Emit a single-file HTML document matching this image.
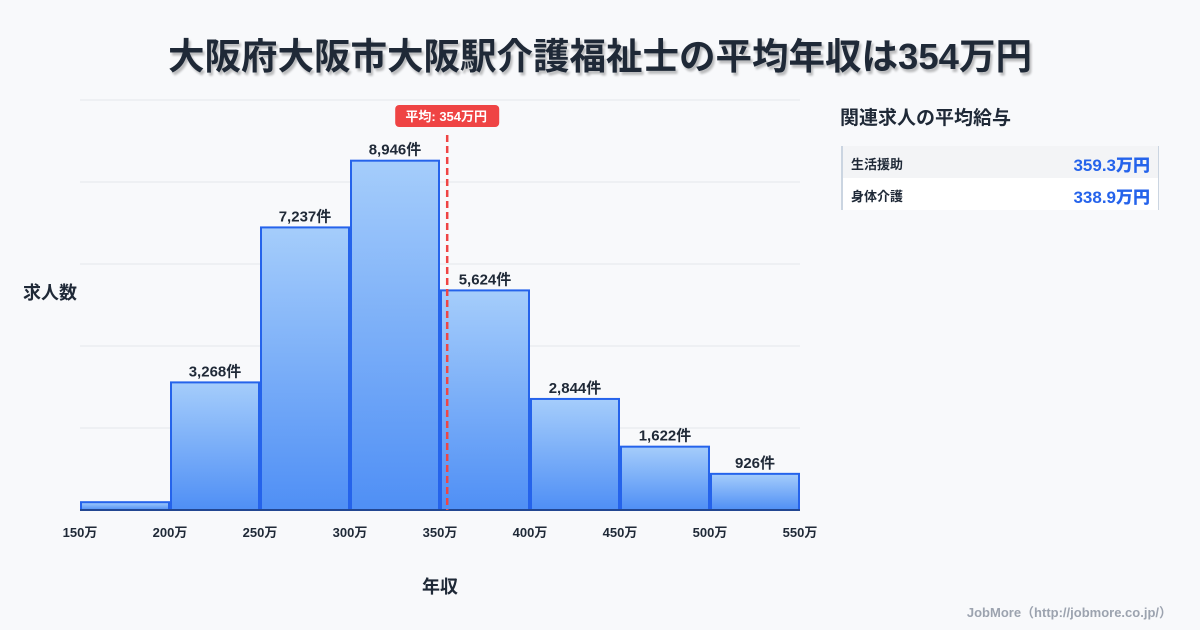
<!DOCTYPE html>
<html><head><meta charset="utf-8">
<style>
body{margin:0;width:1200px;height:630px;background:#f8f9fb;font-family:"Liberation Sans","Noto Sans CJK JP",sans-serif;overflow:hidden;position:relative}
#title{position:absolute;top:27px;left:0;width:1200px;text-align:center;font-size:36.5px;font-weight:bold;color:#1f2937;text-shadow:2px 3px 2px rgba(0,0,0,0.25)}
#panel-title{position:absolute;left:840px;top:103px;font-size:19px;font-weight:bold;color:#1f2937}
.row{position:absolute;left:841px;width:318px;height:32px;border-left:2px solid #cbd5e1;border-right:1px solid #cbd5e1;box-sizing:border-box;font-size:13px;font-weight:bold;color:#1f2937}
.row span{position:absolute;left:8px;top:8px}
.row b{position:absolute;right:8px;top:5px;font-size:17px;color:#2563eb}
#footer{position:absolute;right:28px;top:602px;font-size:13px;font-weight:bold;color:#9ca3af}
</style></head><body>
<div id="title">大阪府大阪市大阪駅介護福祉士の平均年収は354万円</div>
<svg id="chart" width="1200" height="630" style="position:absolute;left:0;top:0">
<defs><linearGradient id="g" x1="0" y1="0" x2="0" y2="1"><stop offset="0" stop-color="#a5cdfb"/><stop offset="1" stop-color="#4f8ff5"/></linearGradient></defs>
</svg>
<div id="panel-title">関連求人の平均給与</div>
<div class="row" style="top:146px;background:#f3f4f6"><span>生活援助</span><b>359.3万円</b></div>
<div class="row" style="top:178px;background:#fff"><span>身体介護</span><b>338.9万円</b></div>
<div id="footer">JobMore（http://jobmore.co.jp/）</div>
<script>
const binEdges=[150,200,250,300,350,400,450,500,550];
const counts=[200,3268,7237,8946,5624,2844,1622,926];
const labels=["","3,268件","7,237件","8,946件","5,624件","2,844件","1,622件","926件"];
const meanValue=354;
const gridValues=[0,2100,4200,6300,8400,10500];
const NS="http://www.w3.org/2000/svg";
const svg=document.getElementById('chart');
const x=v=>80+(v-150)/400*720;
const y=v=>510-v/10500*410;
function mk(t,a){const e=document.createElementNS(NS,t);for(const k in a)e.setAttribute(k,a[k]);svg.appendChild(e);return e;}
gridValues.forEach(g=>{const l=mk('line',{x1:80,x2:800,y1:y(g),y2:y(g),stroke:'#e5e7eb','stroke-width':1});

});
counts.forEach((c,i)=>{
const x0=x(binEdges[i])+1,x1=x(binEdges[i+1])-1;
const r=mk('rect',{x:x0,y:y(c),width:x1-x0,height:510-y(c),fill:'url(#g)',stroke:'#2563eb','stroke-width':2});


if(labels[i]){const t=mk('text',{x:(x0+x1)/2,y:y(c)-6,'text-anchor':'middle','font-size':15,'font-weight':'bold',fill:'#1f2937'});t.textContent=labels[i];

}
});
binEdges.forEach(b=>{const t=mk('text',{x:x(b),y:537,'text-anchor':'middle','font-size':13,'font-weight':'bold',fill:'#1f2937'});t.textContent=b+'万';

});
const ax=mk('line',{x1:80,x2:800,y1:510,y2:510,stroke:'#1f2937','stroke-width':1});


const mx=x(meanValue);
const ml=mk('line',{x1:mx,x2:mx,y1:135,y2:510,stroke:'#ef4444','stroke-width':2.5,'stroke-dasharray':'7,4'});


const mb=mk('rect',{x:mx-52,y:105,width:104,height:22,rx:4,fill:'#ef4444'});


const mt=mk('text',{x:mx-1,y:121,'text-anchor':'middle','font-size':13,'font-weight':'bold',fill:'#fff'});mt.textContent='平均: '+meanValue+'万円';


const yt=mk('text',{x:50,y:299,'text-anchor':'middle','font-size':18,'font-weight':'bold',fill:'#1f2937'});yt.textContent='求人数';


const xt=mk('text',{x:440,y:593,'text-anchor':'middle','font-size':18,'font-weight':'bold',fill:'#1f2937'});xt.textContent='年収';


</script>
</body></html>
